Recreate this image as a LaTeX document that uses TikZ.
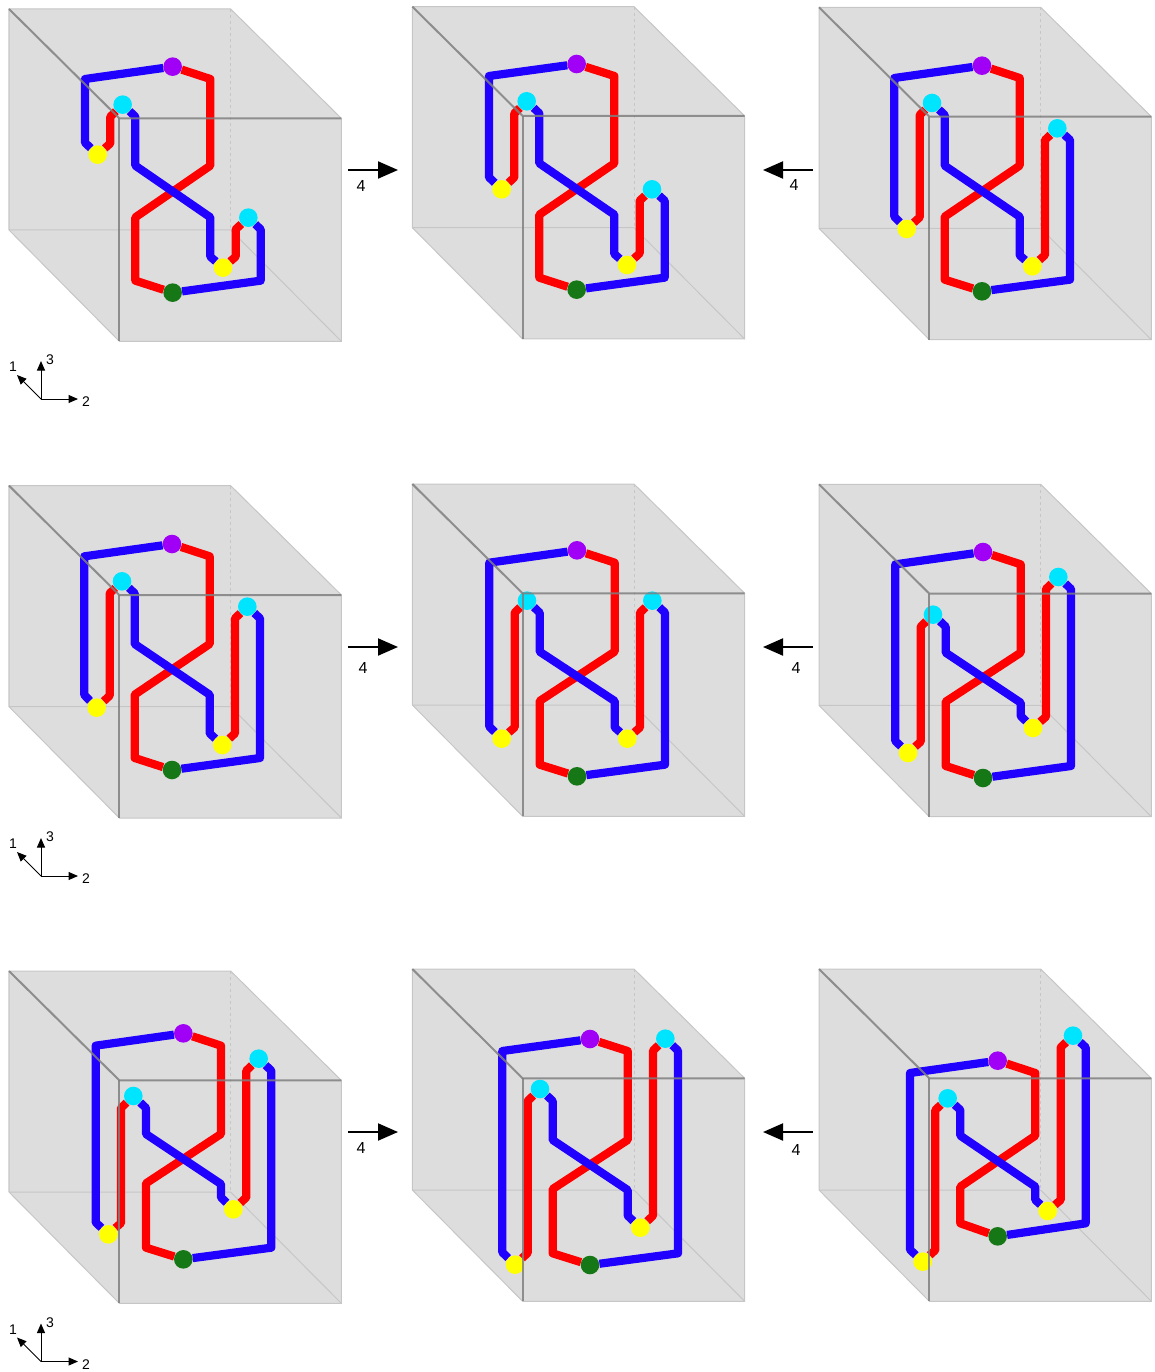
\documentclass[tikz,border=0pt]{standalone}
\usepackage{fontspec}
\setmainfont{Liberation Sans}
\usetikzlibrary{arrows.meta}
\pgfdeclarelayer{bg}
\pgfdeclarelayer{knot}
\pgfdeclarelayer{top}
\pgfsetlayers{bg,knot,main,top}
\definecolor{cubegray}{HTML}{DDDDDD}
\definecolor{edgelight}{HTML}{C6C6C6}
\definecolor{edgedark}{HTML}{7F7F7F}
\definecolor{kblue}{HTML}{2000FF}
\definecolor{kred}{HTML}{FF0000}
\definecolor{kpurple}{HTML}{A000F5}
\definecolor{kcyan}{HTML}{00E5FF}
\definecolor{kyellow}{HTML}{FFFF00}
\definecolor{kgreen}{HTML}{157715}
\tikzset{
  cubefill/.style={fill=cubegray},
  lightedge/.style={draw=edgelight,line width=1pt},
  hiddenedge/.style={draw=edgelight,line width=0.8pt,dash pattern=on 3pt off 3pt},
  darkedge/.style={draw=edgedark,line width=2pt,opacity=0.85},
  bluestrand/.style={draw=kblue,line width=8.2pt,line join=round},
  redstrand/.style={draw=kred,line width=8.2pt,line join=round},
  knotdot/.style={circle,inner sep=0pt,minimum size=18.6pt},
  zoomed/.style={x=0.33333pt,y=-0.33333pt},
  moveline/.style={draw=black,line width=2pt,-{Triangle[length=20pt,width=17pt]}},
  axisline/.style={draw=black,line width=1pt,-{Triangle[length=9.5pt,width=8pt]}},
  lab/.style={inner sep=0pt,font=\fontsize{16}{16}\selectfont},
  axislab/.style={inner sep=0pt,font=\fontsize{14}{14}\selectfont},
}
% cube with its back corner A at (#1,#2), zoomed crop coordinates
\newcommand\cubeframe[2]{%
  \begin{scope}[shift={(#1,#2)}]
    \begin{pgfonlayer}{bg}
      \path[cubefill] (0,0) -- (665,0) -- (997,328) -- (997,997) -- (331,997) -- (0,663) -- cycle;
      \path[hiddenedge] (665,0) -- (665,663);
      \path[lightedge] (0,0) -- (665,0) -- (997,328) -- (997,997) -- (331,997) -- (0,663) -- cycle;
      \path[lightedge] (0,663) -- (665,663) -- (997,997);
    \end{pgfonlayer}
    \begin{pgfonlayer}{top}
      \path[darkedge] (0,0) -- (331,328) -- (997,328);
      \path[darkedge] (331,328) -- (331,997);
    \end{pgfonlayer}
  \end{scope}}
% dots: prefix, purple, yellow 1, cyan 1, yellow 2, cyan 2, green
\newcommand\knotdots[7]{%
  \node[knotdot,fill=kpurple] (#1p) at (#2) {};
  \node[knotdot,fill=kyellow] (#1ya) at (#3) {};
  \node[knotdot,fill=kcyan] (#1ca) at (#4) {};
  \node[knotdot,fill=kyellow] (#1yb) at (#5) {};
  \node[knotdot,fill=kcyan] (#1cb) at (#6) {};
  \node[knotdot,fill=kgreen] (#1g) at (#7) {};}
% strands between the dots; the blue lie over the red
\newcommand\knotstrands[7]{%
  \begin{pgfonlayer}{knot}
    \path[redstrand] (#1ya) -- #3 -- (#1ca);
    \path[redstrand] (#1yb) -- #5 -- (#1cb);
    \path[redstrand] (#1g) -- #7 -- (#1p);
    \path[bluestrand] (#1p) -- #2 -- (#1ya);
    \path[bluestrand] (#1ca) -- #4 -- (#1yb);
    \path[bluestrand] (#1cb) -- #6 -- (#1g);
  \end{pgfonlayer}}
% name, tail x, tip x, y, label x, label y
\newcommand\movearrow[6]{%
  \coordinate (#1s) at (#2,#4);
  \coordinate (#1e) at (#3,#4);
  \path[moveline] (#1s) -- (#1e);
  \node[lab] (#1l) at (#5,#6) {4};}
% name, vertical shift
\newcommand\axestriad[2]{%
  \coordinate (#1o) at (41,399+#2);
  \coordinate (#1a) at (17,375+#2);
  \coordinate (#1b) at (78,399+#2);
  \coordinate (#1c) at (41,361+#2);
  \path[axisline] (#1o) -- (#1a);
  \path[axisline] (#1o) -- (#1b);
  \path[axisline] (#1o) -- (#1c);
  \node[axislab] (#1la) at (13,367+#2) {1};
  \node[axislab] (#1lb) at (86,402+#2) {2};
  \node[axislab] (#1lc) at (50,360+#2) {3};}
\begin{document}
\begin{tikzpicture}[x=1pt,y=-1pt]
\useasboundingbox (0,0) rectangle (1154,1372);

\begin{scope}[shift={(0,0)},zoomed]
  \cubeframe{27}{27}
  \knotdots{a}{518,200}{293,464}{368,314}{669,803}{745,653}{518,878}
  \knotstrands{a}{(255,237) -- (255,428)}{(331,430) -- (331,350)}{(406,350) -- (406,497) -- (631,652) -- (631,770)}{(707,770) -- (707,688)}{(782,688) -- (782,842)}{(406,842) -- (406,652) -- (631,497) -- (631,237)}
\end{scope}

\begin{scope}[shift={(405,0)},zoomed]
  \cubeframe{22}{20}
  \knotdots{b}{515,192}{290,568}{365,304}{666,795}{741,568}{515,869}
  \knotstrands{b}{(252,228) -- (252,532)}{(328,532) -- (328,340)}{(403,340) -- (403,490) -- (628,644) -- (628,762)}{(704,760) -- (704,602)}{(779,602) -- (779,833)}{(403,833) -- (403,644) -- (628,490) -- (628,228)}
\end{scope}

\begin{scope}[shift={(810,0)},zoomed]
  \cubeframe{27}{22}
  \knotdots{c}{516,197}{290,687}{366,309}{667,799}{742,385}{516,874}
  \knotstrands{c}{(253,234) -- (253,650)}{(329,652) -- (329,345)}{(404,345) -- (404,497) -- (629,650) -- (629,766)}{(705,765) -- (705,420)}{(780,420) -- (780,839)}{(404,839) -- (404,650) -- (629,497) -- (629,234)}
\end{scope}

\begin{scope}[shift={(0,480)},zoomed]
  \cubeframe{27}{17}
  \knotdots{d}{516,192}{290,683}{366,304}{667,795}{742,380}{516,870}
  \knotstrands{d}{(253,229) -- (253,645)}{(329,647) -- (329,340)}{(404,340) -- (404,492) -- (629,644) -- (629,760)}{(705,760) -- (705,415)}{(780,415) -- (780,834)}{(404,834) -- (404,644) -- (629,492) -- (629,229)}
\end{scope}

\begin{scope}[shift={(405,480)},zoomed]
  \cubeframe{22}{12}
  \knotdots{e}{516,211}{290,776}{366,362}{667,776}{742,362}{516,889}
  \knotstrands{e}{(253,248) -- (253,740)}{(329,742) -- (329,398)}{(404,398) -- (404,515) -- (629,663) -- (629,742)}{(705,742) -- (705,398)}{(780,398) -- (780,854)}{(404,854) -- (404,663) -- (629,515) -- (629,248)}
\end{scope}

\begin{scope}[shift={(810,480)},zoomed]
  \cubeframe{27}{13}
  \knotdots{f}{519,216}{294,819}{369,404}{669,744}{745,291}{519,894}
  \knotstrands{f}{(256,253) -- (256,783)}{(332,785) -- (332,440)}{(407,440) -- (407,518) -- (632,668) -- (632,708)}{(708,710) -- (708,327)}{(783,327) -- (783,858)}{(407,858) -- (407,665) -- (632,518) -- (632,253)}
\end{scope}

\begin{scope}[shift={(0,1000)},zoomed]
  \cubeframe{27}{-87}
  \knotdots{g}{550,100}{325,703}{400,288}{700,628}{776,176}{550,778}
  \knotstrands{g}{(287,137) -- (287,667)}{(363,669) -- (363,324)}{(438,324) -- (438,402) -- (663,552) -- (663,592)}{(739,592) -- (739,212)}{(814,212) -- (814,743)}{(438,743) -- (438,550) -- (663,402) -- (663,137)}
\end{scope}

\begin{scope}[shift={(405,965)},zoomed]
  \cubeframe{22}{12}
  \knotdots{h}{555,222}{330,899}{405,372}{706,788}{781,221}{555,900}
  \knotstrands{h}{(292,258) -- (292,862)}{(368,864) -- (368,408)}{(443,408) -- (443,525) -- (668,675) -- (668,752)}{(744,752) -- (744,257)}{(819,257) -- (819,865)}{(443,865) -- (443,672) -- (668,525) -- (668,258)}
\end{scope}

\begin{scope}[shift={(810,960)},zoomed]
  \cubeframe{27}{27}
  \knotdots{i}{563,302}{338,905}{413,415}{713,753}{789,227}{563,829}
  \knotstrands{i}{(300,339) -- (300,869)}{(376,870) -- (376,450)}{(451,450) -- (451,527) -- (676,680) -- (676,720)}{(752,720) -- (752,262)}{(827,262) -- (827,790)}{(451,790) -- (451,680) -- (676,527) -- (676,339)}
\end{scope}

\movearrow{m}{348}{398}{170}{361}{186}
\movearrow{n}{813}{763}{170}{794}{185}
\movearrow{o}{348}{398}{647}{363}{668}
\movearrow{q}{813}{763}{647}{796}{668}
\movearrow{r}{348}{398}{1132}{361}{1148}
\movearrow{s}{813}{763}{1132}{796}{1150}

\axestriad{t}{0}
\axestriad{u}{477}
\axestriad{v}{962.5}
\end{tikzpicture}
\end{document}
